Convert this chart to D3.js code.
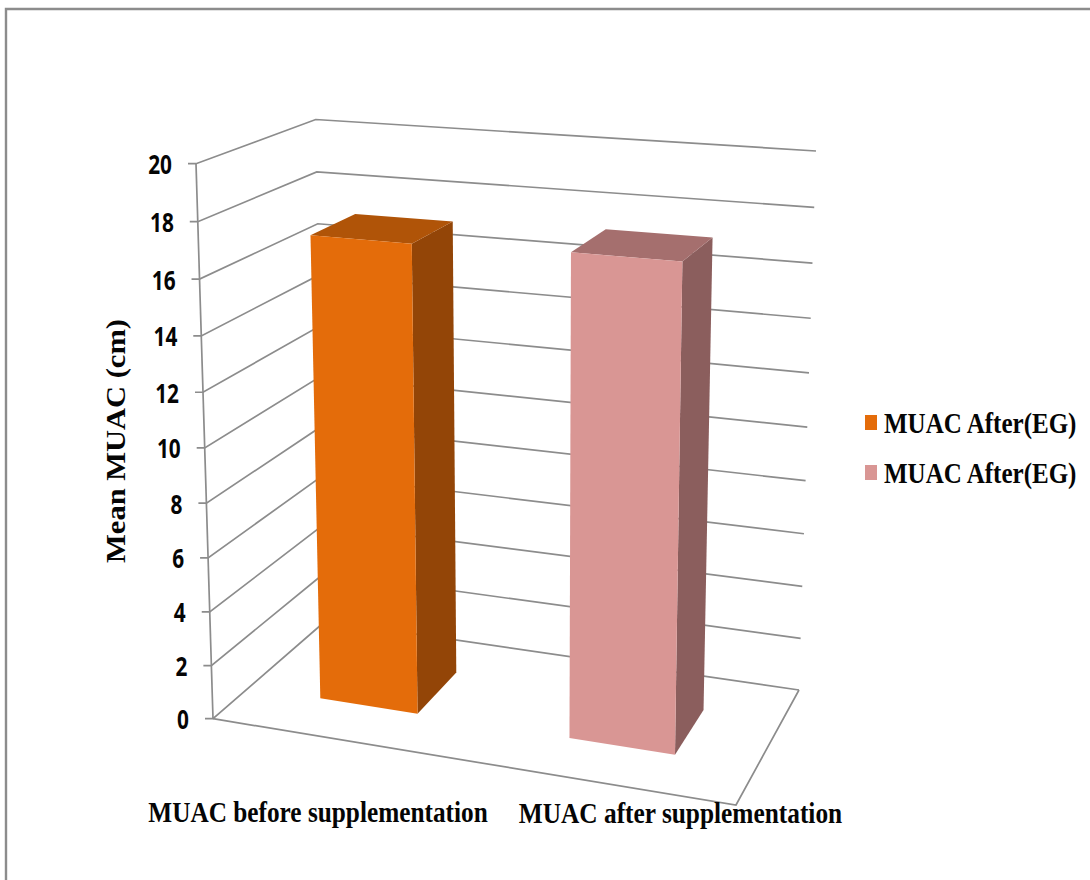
<!DOCTYPE html>
<html>
<head>
<meta charset="utf-8">
<script src="https://cdn.jsdelivr.net/npm/d3@7"></script>
<style>
  html, body { margin: 0; padding: 0; background: #fff; }
  svg { display: block; }
  .serif { font-family: "Liberation Serif", serif; font-weight: 700; fill: #050505; }
  .tick-label { font-family: "Open Sans", sans-serif; font-weight: 700; fill: #050505; }
</style>
</head>
<body>
<svg id="chart" width="1090" height="880"></svg>
<script>
// Chart content
const categories = ["MUAC before supplementation", "MUAC after supplementation"];
const seriesNames = ["MUAC After(EG)", "MUAC After(EG)"];
const meanMuac = [17.15, 17.3];
const tickValues = [0, 2, 4, 6, 8, 10, 12, 14, 16, 18, 20];
const axisTitle = "Mean MUAC (cm)";

// Face colours per series
const frontColors = ["#E46C0A", "#D99694"];
const topColors = ["#B05408", "#A56F6E"];
const sideColors = ["#934507", "#8B5E5D"];

// Corners of the plot box on screen: floor (value 0) and ceiling (value 20)
const floorBox = { fl: [213, 718.7], fr: [736, 805], br: [799, 690], bl: [325.5, 621] };
const ceilBox = { fl: [196, 163.7], fr: [749, 204], br: [816, 151], bl: [315.7, 119.5] };

// Maps the unit square (u along the categories, d into the depth) onto a quadrilateral
function homography({ fl, fr, br, bl }) {
  const dx1 = fr[0] - br[0], dy1 = fr[1] - br[1];
  const dx2 = bl[0] - br[0], dy2 = bl[1] - br[1];
  const sx = fl[0] - fr[0] + br[0] - bl[0], sy = fl[1] - fr[1] + br[1] - bl[1];
  const det = dx1 * dy2 - dx2 * dy1;
  const g = (sx * dy2 - dx2 * sy) / det;
  const h = (dx1 * sy - sx * dy1) / det;
  const a = fr[0] - fl[0] + g * fr[0], b = bl[0] - fl[0] + h * bl[0];
  const c = fr[1] - fl[1] + g * fr[1], e = bl[1] - fl[1] + h * bl[1];
  return (u, d) => {
    const w = 1 + g * u + h * d;
    return [(a * u + b * d + fl[0]) / w, (c * u + e * d + fl[1]) / w];
  };
}
const onFloor = homography(floorBox);
const onCeil = homography(ceilBox);

// Value axis: linear in data, with a slight foreshortening towards the floor
const valueScale = d3.scaleLinear().domain([0, 20]).range([0, 1]);
const rise = v => { const s = valueScale(v); return s / (1.05 - 0.05 * s); };

// 3D chart space to screen
function project(u, d, v) {
  const p = onFloor(u, d), q = onCeil(u, d), t = rise(v);
  return [p[0] + (q[0] - p[0]) * t, p[1] + (q[1] - p[1]) * t];
}

const xBand = d3.scaleBand().domain(categories).range([0, 1]).paddingInner(0.6).paddingOuter(0.3);
const depthFront = 0.3, depthBack = 0.7;

const svg = d3.select("#chart");
const line = d3.line();
const gridColor = "#8c8c8c";

// Picture frame, open towards the right and the bottom
svg.append("path").attr("d", line([[6, 880], [6, 9], [1090, 9]]))
  .attr("fill", "none").attr("stroke", "#8c8c8c").attr("stroke-width", 2.4);

// Gridlines with their tick marks, running along the side wall and back wall
const grid = svg.append("g").attr("fill", "none").attr("stroke", gridColor).attr("stroke-width", 1.7);
tickValues.forEach(v => {
  const a = project(0, 0, v), b = project(0, 1, v), c = project(1, 1, v);
  grid.append("path").attr("d", line([[a[0] - 8, a[1]], a, b, c]));
});
grid.append("path").attr("d", line([project(0, 0, 0), project(0, 0, 20)]));
grid.append("path").attr("d", line([project(0, 0, 0), project(1, 0, 0), project(1, 1, 0)]));

// Tick labels
svg.append("g").selectAll("text").data(tickValues).join("text")
  .attr("class", "tick-label")
  .attr("font-size", 26)
  .attr("text-anchor", "end")
  .attr("transform", v => {
    const p = project(0, 0, v);
    return `translate(${p[0] - 24},${p[1] + 10.5}) scale(0.8,1)`;
  })
  .text(d => d);

// Bars: side, top, then front face
categories.forEach((cat, i) => {
  const u0 = xBand(cat), u1 = u0 + xBand.bandwidth(), v = meanMuac[i];
  const face = (pts, fill) => svg.append("path")
    .attr("d", line(pts) + "Z").attr("fill", fill);
  face([project(u1, depthFront, 0), project(u1, depthBack, 0),
        project(u1, depthBack, v), project(u1, depthFront, v)], sideColors[i]);
  face([project(u0, depthFront, v), project(u1, depthFront, v),
        project(u1, depthBack, v), project(u0, depthBack, v)], topColors[i]);
  face([project(u0, depthFront, 0), project(u1, depthFront, 0),
        project(u1, depthFront, v), project(u0, depthFront, v)], frontColors[i]);
});

// Category labels, condensed horizontally
const catLabelPos = [[318, 822], [680.5, 822.5]];
const catLabelSqueeze = [0.843, 0.845];
svg.append("g").selectAll("text").data(categories).join("text")
  .attr("class", "serif")
  .attr("font-size", 30)
  .attr("text-anchor", "middle")
  .attr("transform", (d, i) => `translate(${catLabelPos[i]}) scale(${catLabelSqueeze[i]},1)`)
  .text(d => d);

// Value axis title
svg.append("text")
  .attr("class", "serif")
  .attr("font-size", 28)
  .attr("text-anchor", "middle")
  .attr("transform", "translate(125,441) rotate(-90) scale(1.09,1)")
  .text(axisTitle);

// Legend
const legendY = d3.scalePoint().domain(d3.range(seriesNames.length)).range([415, 465]);
const legend = svg.append("g").selectAll("g").data(seriesNames).join("g")
  .attr("transform", (d, i) => `translate(865,${legendY(i)})`);
legend.append("rect").attr("width", 12).attr("height", 15)
  .attr("fill", (d, i) => frontColors[i]);
legend.append("text")
  .attr("class", "serif")
  .attr("font-size", 29)
  .attr("transform", "translate(19,18) scale(0.863,1)")
  .text(d => d);
</script>
</body>
</html>
